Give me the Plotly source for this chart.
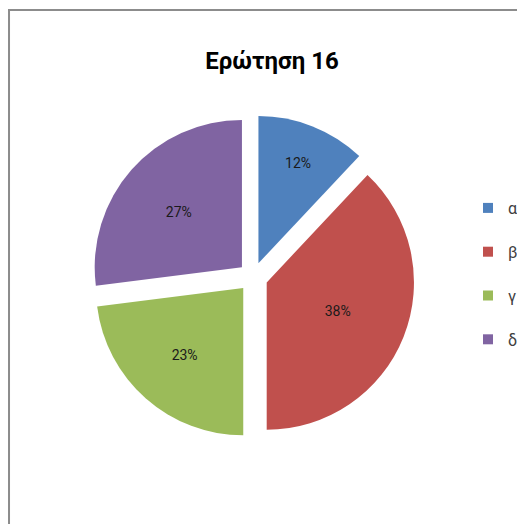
import plotly.graph_objects as go

labels = ["α", "β", "γ", "δ"]
values = [12, 38, 23, 27]
colors = ["#4F81BD", "#C0504D", "#9BBB59", "#8064A2"]
title_text = "Ερώτηση 16"

OFF = 8  # page body margin
W, H = 525 - 2 * OFF, 532 - 2 * OFF

def px(x):
    return (x - OFF) / W

def py(y):
    return 1 - (y - OFF) / H

fig = go.Figure()

fig.add_trace(
    go.Pie(
        labels=labels,
        values=values,
        sort=False,
        direction="clockwise",
        rotation=0,
        pull=[0.1, 0.1, 0.1, 0.1],
        marker=dict(colors=colors, line=dict(width=0)),
        texttemplate="%{percent:.0%}",
        textposition="inside",
        insidetextorientation="horizontal",
        textfont=dict(family="Roboto", size=14, color="#1a1a1a"),
        domain=dict(x=[px(91), px(415)], y=[py(439), py(115)]),
        hoverinfo="label+percent",
        showlegend=False,
    )
)

# legend entries (one group each so they can be spaced like the original)
for lab, col in zip(labels, colors):
    fig.add_trace(
        go.Scatter(
            x=[None], y=[None], mode="markers", name=lab,
            marker=dict(symbol="square", size=10, color=col),
            legendgroup=lab, showlegend=True, hoverinfo="skip",
        )
    )

fig.update_layout(
    width=W,
    height=H,
    margin=dict(l=0, r=0, t=0, b=0, autoexpand=False),
    paper_bgcolor="white",
    plot_bgcolor="white",
    xaxis=dict(visible=False),
    yaxis=dict(visible=False),
    title=dict(
        text=title_text,
        x=px(272),
        y=py(61),
        xanchor="center",
        yanchor="middle",
        font=dict(family="Roboto", size=24, color="#000000", weight="bold"),
    ),
    legend=dict(
        x=px(468),
        y=py(274),
        xanchor="left",
        yanchor="middle",
        font=dict(family="Roboto", size=16, color="#404040"),
        bgcolor="rgba(0,0,0,0)",
        tracegroupgap=20,
        itemwidth=30,
    ),
    shapes=[
        dict(type="line", xref="paper", yref="paper", x0=0, x1=1, y0=py(10), y1=py(10),
             line=dict(color="#8c8c8c", width=2)),
        dict(type="line", xref="paper", yref="paper", x0=0.002, x1=0.002, y0=0, y1=py(10),
             line=dict(color="#8c8c8c", width=2)),
    ],
)

fig.write_html("out.html")
